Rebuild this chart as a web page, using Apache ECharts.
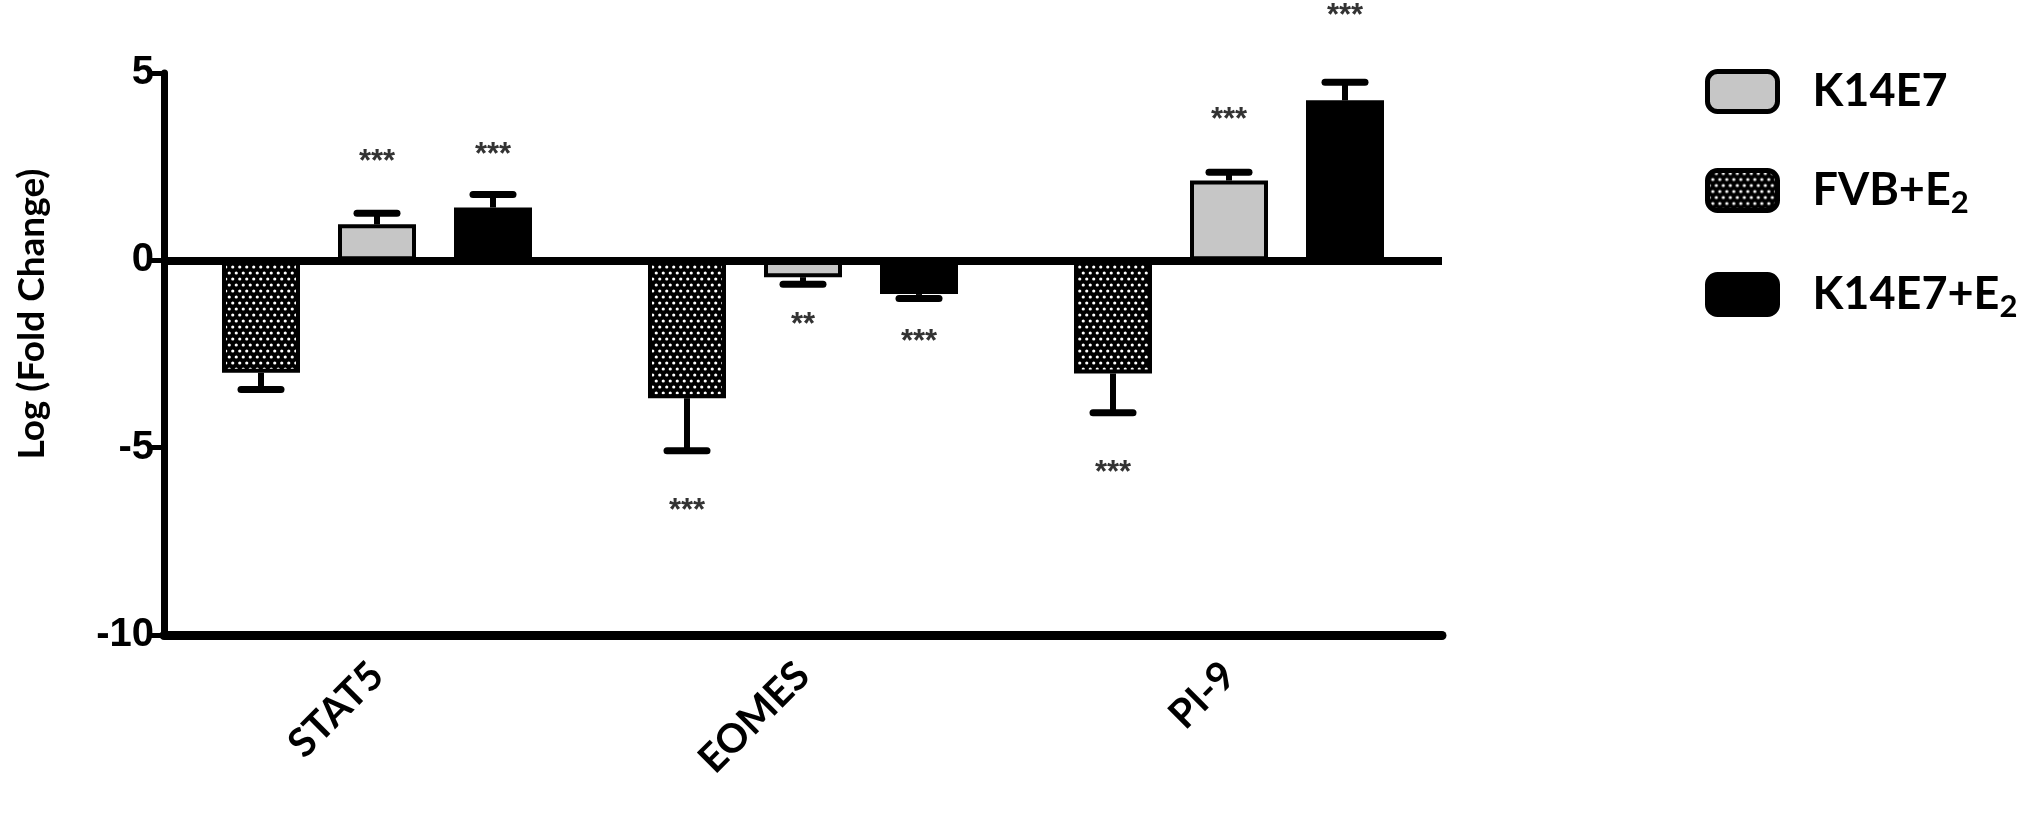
<!DOCTYPE html>
<html>
<head>
<meta charset="utf-8">
<script src="https://cdn.jsdelivr.net/npm/echarts@6/dist/echarts.min.js"></script>
<style>
  html, body { margin: 0; padding: 0; background: #fff; }
  #chart { width: 2031px; height: 822px; }
</style>
</head>
<body>
<div id="chart"></div>
<script>
// 数据
var categories = ['STAT5', 'EOMES', 'PI-9']
var seriesNames = ['FVB+E2', 'K14E7', 'K14E7+E2']
var fvbE2 = [-3.0, -3.68, -3.02]
var k14e7 = [0.96, -0.45, 2.13]
var k14e7E2 = [1.41, -0.9, 4.27]
var fvbE2Err = [0.45, 1.4, 1.05]
var k14e7Err = [0.3, 0.19, 0.22]
var k14e7E2Err = [0.35, 0.12, 0.48]
// 显著性星号位置和文字
var fvbE2Star = [null, -6.7, -5.7]
var k14e7Star = [2.6, -1.73, 3.74]
var k14e7E2Star = [2.8, -2.2, 6.5]
var fvbE2StarText = ['', '***', '***']
var k14e7StarText = ['***', '**', '***']
var k14e7E2StarText = ['***', '***', '***']
var yTicks = [-10, -5, 0, 5]

var BAR_W = 78
var BAR_GAP = 116 / 78 - 1

// 网点填充
function dotPattern () {
  var c = document.createElement('canvas')
  c.width = 7
  c.height = 12
  var ctx = c.getContext('2d')
  ctx.fillStyle = '#000'
  ctx.fillRect(0, 0, 7, 12)
  ctx.fillStyle = '#fff'
  ctx.beginPath()
  ctx.arc(1.75, 3, 1.6, 0, Math.PI * 2)
  ctx.arc(5.25, 9, 1.6, 0, Math.PI * 2)
  ctx.fill()
  return { image: c, repeat: 'repeat' }
}

var fills = [dotPattern(), '#c6c6c6', '#000']
var values = [fvbE2, k14e7, k14e7E2]
var errs = [fvbE2Err, k14e7Err, k14e7E2Err]
var stars = [fvbE2Star, k14e7Star, k14e7E2Star]
var starTexts = [fvbE2StarText, k14e7StarText, k14e7E2StarText]

var chart = echarts.init(document.getElementById('chart'))

var series = []
seriesNames.forEach(function (name, k) {
  series.push({
    name: name,
    type: 'bar',
    barWidth: BAR_W,
    barGap: (BAR_GAP * 100) + '%',
    itemStyle: {
      color: fills[k],
      borderColor: '#000',
      borderWidth: 4
    },
    data: values[k],
    z: 2
  })
})

// 误差线
seriesNames.forEach(function (name, k) {
  series.push({
    type: 'custom',
    silent: true,
    data: categories.map(function (c, i) { return [i, values[k][i], errs[k][i]] }),
    renderItem: function (params, api) {
      var i = api.value(0)
      var v = api.value(1)
      var e = api.value(2)
      var end = v >= 0 ? v + e : v - e
      var p0 = api.coord([i, v])
      var p1 = api.coord([i, end])
      var x = p0[0] + (k - 1) * BAR_W * (1 + BAR_GAP)
      return {
        type: 'group',
        children: [
          { type: 'line', shape: { x1: x, y1: p0[1], x2: x, y2: p1[1] }, style: { stroke: '#000', lineWidth: 6 } },
          { type: 'line', shape: { x1: x - 20, y1: p1[1], x2: x + 20, y2: p1[1] }, style: { stroke: '#000', lineWidth: 7, lineCap: 'round' } }
        ]
      }
    },
    z: 1
  })
})

// 星号
seriesNames.forEach(function (name, k) {
  series.push({
    type: 'custom',
    silent: true,
    clip: false,
    data: categories.map(function (c, i) { return [i, stars[k][i], starTexts[k][i]] }).filter(function (d) { return d[1] !== null }),
    renderItem: function (params, api) {
      var p = api.coord([api.value(0), api.value(1)])
      var x = p[0] + (k - 1) * BAR_W * (1 + BAR_GAP)
      return {
        type: 'text',
        x: x,
        y: p[1],
        style: {
          text: starTexts[k][api.value(0)],
          fill: '#333',
          font: 'bold 31px "Liberation Sans"',
          align: 'center',
          verticalAlign: 'middle'
        }
      }
    },
    z: 3
  })
})

// 零线
series[0].markLine = {
  silent: true,
  symbol: 'none',
  label: { show: false },
  lineStyle: { color: '#000', width: 8, type: 'solid' },
  data: [{ yAxis: 0 }],
  z: 5
}

var option = {
  animation: false,
  backgroundColor: '#fff',
  grid: { left: 164, top: 73, width: 1278, height: 562 },
  legend: {
    orient: 'vertical',
    left: 1700,
    top: 64,
    itemWidth: 70,
    itemHeight: 40,
    itemGap: 54,
    icon: 'roundRect',
    itemStyle: { borderColor: '#000', borderWidth: 5 },
    data: ['K14E7', 'FVB+E2', 'K14E7+E2'],
    formatter: function (n) {
      if (n === 'K14E7') return '{a|K14E7}'
      if (n === 'FVB+E2') return '{a|FVB+E}{s|2}'
      return '{a|K14E7+E}{s|2}'
    },
    textStyle: {
      rich: {
        a: { fontFamily: 'Lato', fontWeight: 'bold', fontSize: 45, color: '#000', padding: [0, 0, 0, 30] },
        s: { fontFamily: 'Lato', fontWeight: 'bold', fontSize: 31, color: '#000', padding: [24, 0, 0, 0] }
      }
    }
  },
  xAxis: {
    type: 'category',
    data: categories,
    axisLine: { onZero: false, lineStyle: { color: '#000', width: 9 } },
    axisTick: { alignWithLabel: true, length: 14, lineStyle: { color: '#000', width: 5 } },
    axisLabel: {
      rotate: 45,
      margin: 34,
      fontFamily: 'Lato',
      fontWeight: 'bold',
      fontSize: 40,
      color: '#000'
    }
  },
  yAxis: {
    type: 'value',
    min: -10,
    max: 5,
    interval: 5,
    axisLine: { show: true, lineStyle: { color: '#000', width: 7 } },
    axisTick: { show: true, length: 14, lineStyle: { color: '#000', width: 5 } },
    splitLine: { show: false },
    axisLabel: {
      margin: 10,
      fontFamily: 'Liberation Sans',
      fontWeight: 'bold',
      fontSize: 40,
      color: '#000',
      customValues: yTicks
    }
  },
  graphic: [{
    type: 'text',
    x: 32,
    y: 314,
    rotation: Math.PI / 2,
    style: {
      text: 'Log (Fold Change)',
      font: 'bold 37px Lato',
      fill: '#000',
      align: 'center',
      verticalAlign: 'middle'
    }
  }],
  series: series
}
chart.setOption(option)
</script>
</body>
</html>
